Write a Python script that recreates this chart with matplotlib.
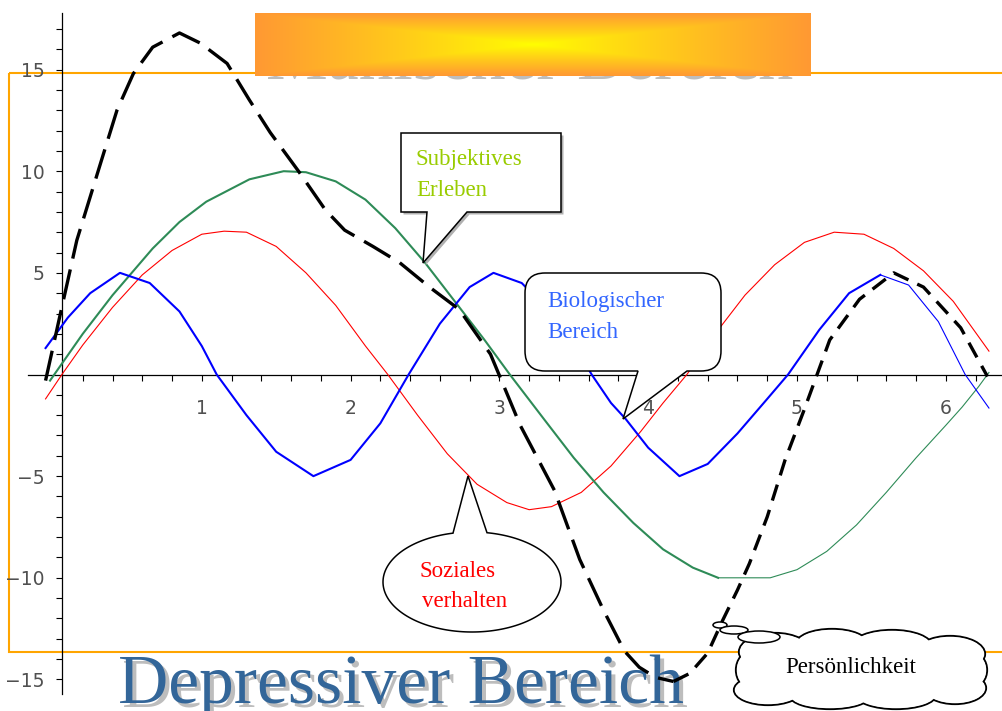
import numpy as np
import matplotlib.pyplot as plt
from matplotlib.patches import Polygon, Ellipse, PathPatch, Rectangle
from matplotlib.path import Path
from matplotlib.transforms import Affine2D

plt.rcParams['lines.scale_dashes'] = False

# --- curves ---
blue_x = [-0.05, 0.1, 0.25, 0.45, 0.65, 0.85, 1.0, 1.1, 1.3, 1.5, 1.75, 2.0, 2.2, 2.39, 2.6, 2.8,
          2.96, 3.15, 3.35, 3.5, 3.62, 3.75, 3.85, 4.0, 4.21, 4.4, 4.6, 4.8, 4.94, 5.15, 5.35, 5.56,
          5.75, 5.95, 6.13, 6.29]
blue_y = [1.3, 2.8, 4.0, 5.0, 4.5, 3.1, 1.4, 0.0, -2.0, -3.8, -5.0, -4.2, -2.4, 0.0, 2.5, 4.3,
          5.0, 4.5, 3.0, 1.5, 0.0, -1.4, -2.2, -3.6, -5.0, -4.4, -2.9, -1.2, 0.0, 2.2, 4.0, 4.9,
          4.4, 2.6, 0.0, -1.65]

red_x = [-0.05, 0.06, 0.2, 0.4, 0.6, 0.8, 1.0, 1.15, 1.3, 1.5, 1.7, 1.9, 2.1, 2.25, 2.45, 2.65,
         2.85, 3.05, 3.2, 3.35, 3.55, 3.75, 3.95, 4.1, 4.26, 4.45, 4.65, 4.85, 5.05, 5.25, 5.45,
         5.65, 5.85, 6.05, 6.29]
red_y = [-1.2, 0.0, 1.45, 3.3, 4.9, 6.1, 6.9, 7.05, 7.0, 6.3, 5.0, 3.4, 1.4, 0.0, -2.0, -3.9,
         -5.4, -6.3, -6.65, -6.5, -5.8, -4.5, -2.8, -1.4, 0.0, 2.0, 3.9, 5.4, 6.5, 7.0, 6.9,
         6.2, 5.1, 3.6, 1.15]

green_x = [-0.02, 0.2, 0.4, 0.67, 0.85, 1.03, 1.32, 1.55, 1.7, 1.9, 2.1, 2.3, 2.5, 2.7, 2.9, 3.07,
           3.3, 3.5, 3.7, 3.9, 4.1, 4.3, 4.47, 4.65, 4.82, 5.0, 5.2, 5.4, 5.6, 5.8, 6.0, 6.11,
           6.22, 6.29]
green_y = [-0.3, 2.0, 3.9, 6.2, 7.5, 8.5, 9.6, 10.0, 9.95, 9.5, 8.6, 7.2, 5.5, 3.6, 1.7, 0.0,
           -2.2, -4.1, -5.8, -7.3, -8.6, -9.5, -10.0, -10.0, -10.0, -9.6, -8.7, -7.4, -5.8, -4.1,
           -2.5, -1.6, -0.6, 0.1]

black_x = [-0.05, 0.05, 0.16, 0.32, 0.43, 0.54, 0.67, 0.85, 0.99, 1.17, 1.32, 1.46, 1.65, 1.83,
           1.96, 2.15, 2.33, 2.53, 2.73, 2.94, 3.14, 3.37, 3.54, 3.70, 3.84, 3.94, 4.05, 4.17,
           4.28, 4.40, 4.50, 4.60, 4.68, 4.80, 4.92, 5.05, 5.12, 5.22, 5.42, 5.65, 5.85, 6.10, 6.28]
black_y = [-0.3, 3.0, 6.6, 10.4, 13.0, 14.8, 16.1, 16.8, 16.3, 15.3, 13.5, 11.9, 10.0, 8.1,
           7.1, 6.3, 5.5, 4.3, 3.2, 1.0, -2.5, -5.7, -9.1, -11.6, -13.6, -14.4, -14.9, -15.1,
           -14.7, -13.7, -12.1, -10.6, -9.3, -7.0, -4.2, -1.7, -0.3, 1.7, 3.7, 5.0, 4.3, 2.3, -0.1]

x_ticks = [1, 2, 3, 4, 5, 6]
y_ticks = [-15, -10, -5, 5, 10, 15]

W, H = 1002, 711
fig = plt.figure(figsize=(W / 100, H / 100), dpi=100)
ax = fig.add_axes([0, 0, 1, 1])
X0, SX = 53.0, 148.8   # pixel of x=0 and pixels per unit
Y0, SY = 374.5, 20.33
xlim = (-X0 / SX, (W - X0) / SX)
ylim = ((Y0 - H) / SY, Y0 / SY)
PX = Affine2D().scale(1 / W, -1 / H).translate(0, 1) + fig.transFigure


def dx(p):
    return (p - X0) / SX


def dy(p):
    return (Y0 - p) / SY


# axes in Maple style
for s in ['top', 'right']:
    ax.spines[s].set_visible(False)
ax.spines['left'].set_position(('data', 0.06))
ax.spines['left'].set_bounds(-15.7, 17.8)
ax.spines['bottom'].set_position(('data', 0))
ax.spines['bottom'].set_bounds(-0.17, xlim[1])
for s in ['left', 'bottom']:
    ax.spines[s].set_linewidth(0.9)
ax.set_xticks(x_ticks, [str(v) for v in x_ticks])
ax.set_xticks([v / 5 for v in range(1, 32) if v % 5], minor=True)
ax.set_yticks(y_ticks, [str(v).replace('-', '\u2212') for v in y_ticks])
ax.set_yticks([v for v in range(-15, 18) if v % 5], minor=True)
ax.tick_params(axis='x', which='both', direction='out', length=4.3, width=0.8, pad=13.5,
               labelsize=13.5, labelcolor='#505050')
ax.tick_params(axis='y', which='both', direction='out', length=4.3, width=0.8, pad=8,
               labelsize=13.5, labelcolor='#505050')
ax.patch.set_visible(False)

# orange frame
ax.add_patch(Rectangle((9, 72.5), 1100, 579, transform=PX, fill=False, ec='#FFA500', lw=1.5,
                       zorder=1))

# titles with drop shadow
for txt, x0, y0 in [('Manischer Bereich', 262, 75), ('Depressiver Bereich', 118, 703)]:
    ax.text(x0 + 4, y0 + 4, txt, transform=PX, fontsize=50, family='Liberation Serif',
            color='#BDBDBD', va='baseline', zorder=2)
    ax.text(x0, y0, txt, transform=PX, fontsize=50, family='Liberation Serif',
            color='#336699', va='baseline', zorder=2.1)

# gradient banner
u = np.abs(np.linspace(-1, 1, 556))[None, :]
v = np.abs(np.linspace(-1, 1, 64))[:, None]
t = np.maximum(u, v) ** 0.9
c0 = np.array([1.0, 1.0, 0.0])
c1 = np.array([1.0, 0.6, 0.2])
img = c0 + (c1 - c0) * t[..., None]
ax.imshow(img, extent=[dx(255), dx(811), dy(76), dy(13)], aspect='auto', zorder=3,
          interpolation='bilinear')

# curves
lw_thin, lw_thick = 0.8, 1.5
ax.plot(red_x, red_y, color='#FF0000', lw=lw_thin, zorder=4)
gi = green_x.index(4.47) + 1
ax.plot(green_x[:gi], green_y[:gi], color='#2E8B57', lw=lw_thick, zorder=4)
ax.plot(green_x[gi - 1:], green_y[gi - 1:], color='#2E8B57', lw=lw_thin, zorder=4)
bi = blue_x.index(5.56) + 1
ax.plot(blue_x[:bi], blue_y[:bi], color='#0000FF', lw=lw_thick, zorder=4)
ax.plot(blue_x[bi - 1:], blue_y[bi - 1:], color='#0000FF', lw=lw_thin, zorder=4)
ki = black_y.index(min(black_y)) + 1
ax.plot(black_x[:ki], black_y[:ki], color='black', lw=2.4, dashes=(22, 8), zorder=5)
ax.plot(black_x[ki - 1:], black_y[ki - 1:], color='black', lw=2.4, dashes=(12, 7), zorder=5)

ax.set_xlim(*xlim)
ax.set_ylim(*ylim)

serif = 'Liberation Serif'
fs = 16.5

# rectangular callout
rect_pts = [(401, 133), (561, 133), (561, 212), (467, 212), (423, 263), (427, 212), (401, 212)]
ax.add_patch(Polygon([(x + 2.5, y + 2.5) for x, y in rect_pts], closed=True, transform=PX,
                     fc='#B0B0B0', ec='none', zorder=6))
ax.add_patch(Polygon(rect_pts, closed=True, transform=PX, fc='white', ec='black', lw=1.1,
                     zorder=6.1))
ax.text(416, 165, 'Subjektives', transform=PX, fontsize=fs, family=serif, color='#99CC00',
        zorder=7)
ax.text(416, 196, 'Erleben', transform=PX, fontsize=fs, family=serif, color='#99CC00', zorder=7)

# rounded callout
l, tp, r, b, rad = 525, 273, 721, 371, 20
verts = [(l + rad, tp), (r - rad, tp), (r, tp), (r, tp + rad), (r, b - rad), (r, b), (r - rad, b),
         (687, b), (623, 419), (638, b), (l + rad, b), (l, b), (l, b - rad), (l, tp + rad),
         (l, tp), (l + rad, tp), (l + rad, tp)]
codes = [Path.MOVETO, Path.LINETO, Path.CURVE3, Path.CURVE3, Path.LINETO, Path.CURVE3,
         Path.CURVE3, Path.LINETO, Path.LINETO, Path.LINETO, Path.LINETO, Path.CURVE3,
         Path.CURVE3, Path.LINETO, Path.CURVE3, Path.CURVE3, Path.CLOSEPOLY]
ax.add_patch(PathPatch(Path(verts, codes), transform=PX, fc='white', ec='black', lw=1.1,
                       zorder=6))
ax.text(547, 307, 'Biologischer', transform=PX, fontsize=fs, family=serif, color='#3366FF',
        zorder=7)
ax.text(547, 338, 'Bereich', transform=PX, fontsize=fs, family=serif, color='#3366FF', zorder=7)

# oval callout
cx, cy, a, bb = 472, 582, 89, 50
th_r = np.arctan2(-np.sqrt(1 - ((487 - cx) / a) ** 2), (487 - cx) / a)
th_l = np.arctan2(-np.sqrt(1 - ((453 - cx) / a) ** 2), (453 - cx) / a) + 2 * np.pi
th = np.linspace(th_r, th_l, 200)
oval = [(cx + a * np.cos(q), cy + bb * np.sin(q)) for q in th] + [(468, 476)]
ax.add_patch(Polygon(oval, closed=True, transform=PX, fc='white', ec='black', lw=1.1, zorder=6))
ax.text(420, 577, 'Soziales', transform=PX, fontsize=fs, family=serif, color='#FF0000', zorder=7)
ax.text(422, 607, 'verhalten', transform=PX, fontsize=fs, family=serif, color='#FF0000',
        zorder=7)

# thought cloud
bumps = [(775, 652, 72, 38), (832, 644, 72, 30), (892, 646, 80, 32), (950, 654, 70, 36),
         (768, 690, 68, 30), (830, 696, 80, 26), (896, 695, 80, 28), (955, 688, 62, 32),
         (752, 670, 32, 38), (973, 670, 28, 34), (862, 670, 210, 56)]
for bx, by, bw, bh in bumps:
    ax.add_patch(Ellipse((bx, by), bw, bh, transform=PX, fc='white', ec='black', lw=1.6,
                         zorder=6))
for bx, by, bw, bh in bumps:
    ax.add_patch(Ellipse((bx, by), bw - 1.5, bh - 1.5, transform=PX, fc='white', ec='none',
                         zorder=6.1))
for bx, by, bw, bh in [(720, 625, 14, 6), (734, 630, 28, 8), (759, 637, 42, 12)]:
    ax.add_patch(Ellipse((bx, by), bw, bh, transform=PX, fc='white', ec='black', lw=1.1,
                         zorder=6.2))
ax.text(785, 673, 'Persönlichkeit', transform=PX, fontsize=fs, family=serif, color='black',
        zorder=7)

fig.savefig('out.png', dpi=100)
